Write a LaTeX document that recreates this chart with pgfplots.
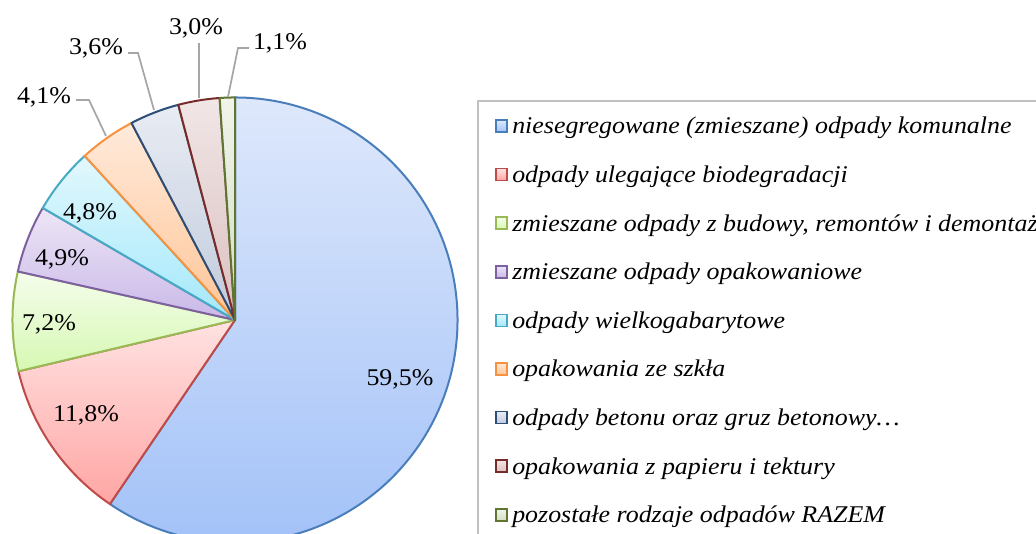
\documentclass[border=0pt]{standalone}
\usepackage{pgfplots}
\pgfplotsset{compat=1.18}
\usepackage{pgfplotstable}
\usepackage{fontspec}
\setmainfont{Liberation Serif}[FakeStretch=1.08]

% slice colours: l = outline, t = top of gradient, b = bottom of gradient
\definecolor{l0}{HTML}{4A7EBB}\definecolor{t0}{HTML}{DEE8FB}\definecolor{b0}{HTML}{A3C2F8}
\definecolor{l1}{HTML}{BE4B48}\definecolor{t1}{HTML}{FFE2E2}\definecolor{b1}{HTML}{FFA6A4}
\definecolor{l2}{HTML}{98B954}\definecolor{t2}{HTML}{F5FDEC}\definecolor{b2}{HTML}{D6F8B2}
\definecolor{l3}{HTML}{7D60A0}\definecolor{t3}{HTML}{EDE6F6}\definecolor{b3}{HTML}{C9B8E8}
\definecolor{l4}{HTML}{46AAC5}\definecolor{t4}{HTML}{E2F8FD}\definecolor{b4}{HTML}{A3E8FB}
\definecolor{l5}{HTML}{F69240}\definecolor{t5}{HTML}{FFEADB}\definecolor{b5}{HTML}{FFC596}
\definecolor{l6}{HTML}{2C4D75}\definecolor{t6}{HTML}{E8ECF3}\definecolor{b6}{HTML}{C1CADC}
\definecolor{l7}{HTML}{772C2A}\definecolor{t7}{HTML}{F1E6E6}\definecolor{b7}{HTML}{DBC0C0}
\definecolor{l8}{HTML}{5F7530}\definecolor{t8}{HTML}{F0F4EB}\definecolor{b8}{HTML}{D4DDC5}
\definecolor{leader}{HTML}{A6A6A6}
\definecolor{legframe}{HTML}{C0C0C0}

\pgfkeys{/pgf/number format/.cd,fixed,fixed zerofill,precision=1,use comma,assume math mode=true}

% share in %, label position (px from left, px from top)
\pgfplotstableread[col sep=comma]{
share,lx,ly
59.5,400,378
11.8,86,414
7.2,49,323
4.9,62,258
4.8,90,212
4.1,44,96
3.6,96,47
3.0,196,27
1.1,280,42
}\piedata

\begin{document}
\begin{tikzpicture}
\useasboundingbox (0,0) rectangle (777pt,400.5pt);
\def\cx{235}\def\cy{320}\def\R{166.9pt}
\gdef\piepaths{}
\gdef\pielabels{}
\gdef\curang{90}
\pgfplotstablegetrowsof{\piedata}
\pgfmathtruncatemacro\lastrow{\pgfplotsretval-1}
\foreach \i in {0,...,\lastrow}{%
  \pgfplotstablegetelem{\i}{share}\of\piedata \let\sh\pgfplotsretval
  \pgfplotstablegetelem{\i}{lx}\of\piedata \let\lx\pgfplotsretval
  \pgfplotstablegetelem{\i}{ly}\of\piedata \let\ly\pgfplotsretval
  \pgfmathsetmacro\endang{\curang-3.6*\sh}%
  \xdef\piepaths{\unexpanded\expandafter{\piepaths}%
    \noexpand\path[draw=l\i, top color=t\i, bottom color=b\i, line width=1.5pt, line join=round]
      (axis cs:\cx,\cy) -- ++(\curang:\R) arc[start angle=\curang, end angle=\endang, radius=\R] -- cycle;}%
  \xdef\pielabels{\unexpanded\expandafter{\pielabels}%
    \noexpand\node[anchor=center, text height=12pt, text depth=0pt, inner sep=0pt, font=\noexpand\fontsize{18pt}{21pt}\noexpand\selectfont]
      at (axis cs:\lx,\ly) {\noexpand\pgfmathprintnumber{\sh}\noexpand\%};}%
  \xdef\curang{\endang}%
}
\begin{axis}[at={(0,0)}, anchor=south west, x=0.75pt, y=0.75pt,
  xmin=0, xmax=1036, ymin=0, ymax=534, y dir=reverse, hide axis, clip=true]
\piepaths
\pielabels
% leader lines
\draw[leader, line width=1.3pt] (axis cs:76,100) -- (axis cs:89,100) -- (axis cs:106,136);
\draw[leader, line width=1.3pt] (axis cs:128,53) -- (axis cs:138,53) -- (axis cs:154,110);
\draw[leader, line width=1.3pt] (axis cs:199,43) -- (axis cs:199,98);
\draw[leader, line width=1.3pt] (axis cs:249,48) -- (axis cs:238,48) -- (axis cs:228,97);
% legend
\draw[legframe, line width=1.5pt] (axis cs:478,101) rectangle (axis cs:1060,560);
\pgfplotsinvokeforeach{0,...,8}{
  \path[draw=l#1, top color=t#1, bottom color=b#1, line width=1.1pt]
    (axis cs:496,{126+48.6*#1-6}) rectangle (axis cs:507,{126+48.6*#1+6});
}
\begin{scope}[every node/.style={anchor=base west, inner sep=0pt, font=\fontsize{18pt}{21pt}\selectfont\itshape}]
\node at (axis cs:512,134.0) {niesegregowane (zmieszane) odpady komunalne};
\node at (axis cs:512,182.6) {odpady ulegające biodegradacji};
\node at (axis cs:512,231.2) {zmieszane odpady z budowy, remontów i demontażu};
\node at (axis cs:512,279.8) {zmieszane odpady opakowaniowe};
\node at (axis cs:512,328.4) {odpady wielkogabarytowe};
\node at (axis cs:512,377.0) {opakowania ze szkła};
\node at (axis cs:512,425.6) {odpady betonu oraz gruz betonowy\dots};
\node at (axis cs:512,474.2) {opakowania z papieru i tektury};
\node at (axis cs:512,522.8) {pozostałe rodzaje odpadów RAZEM};
\end{scope}
\end{axis}
\end{tikzpicture}
\end{document}
